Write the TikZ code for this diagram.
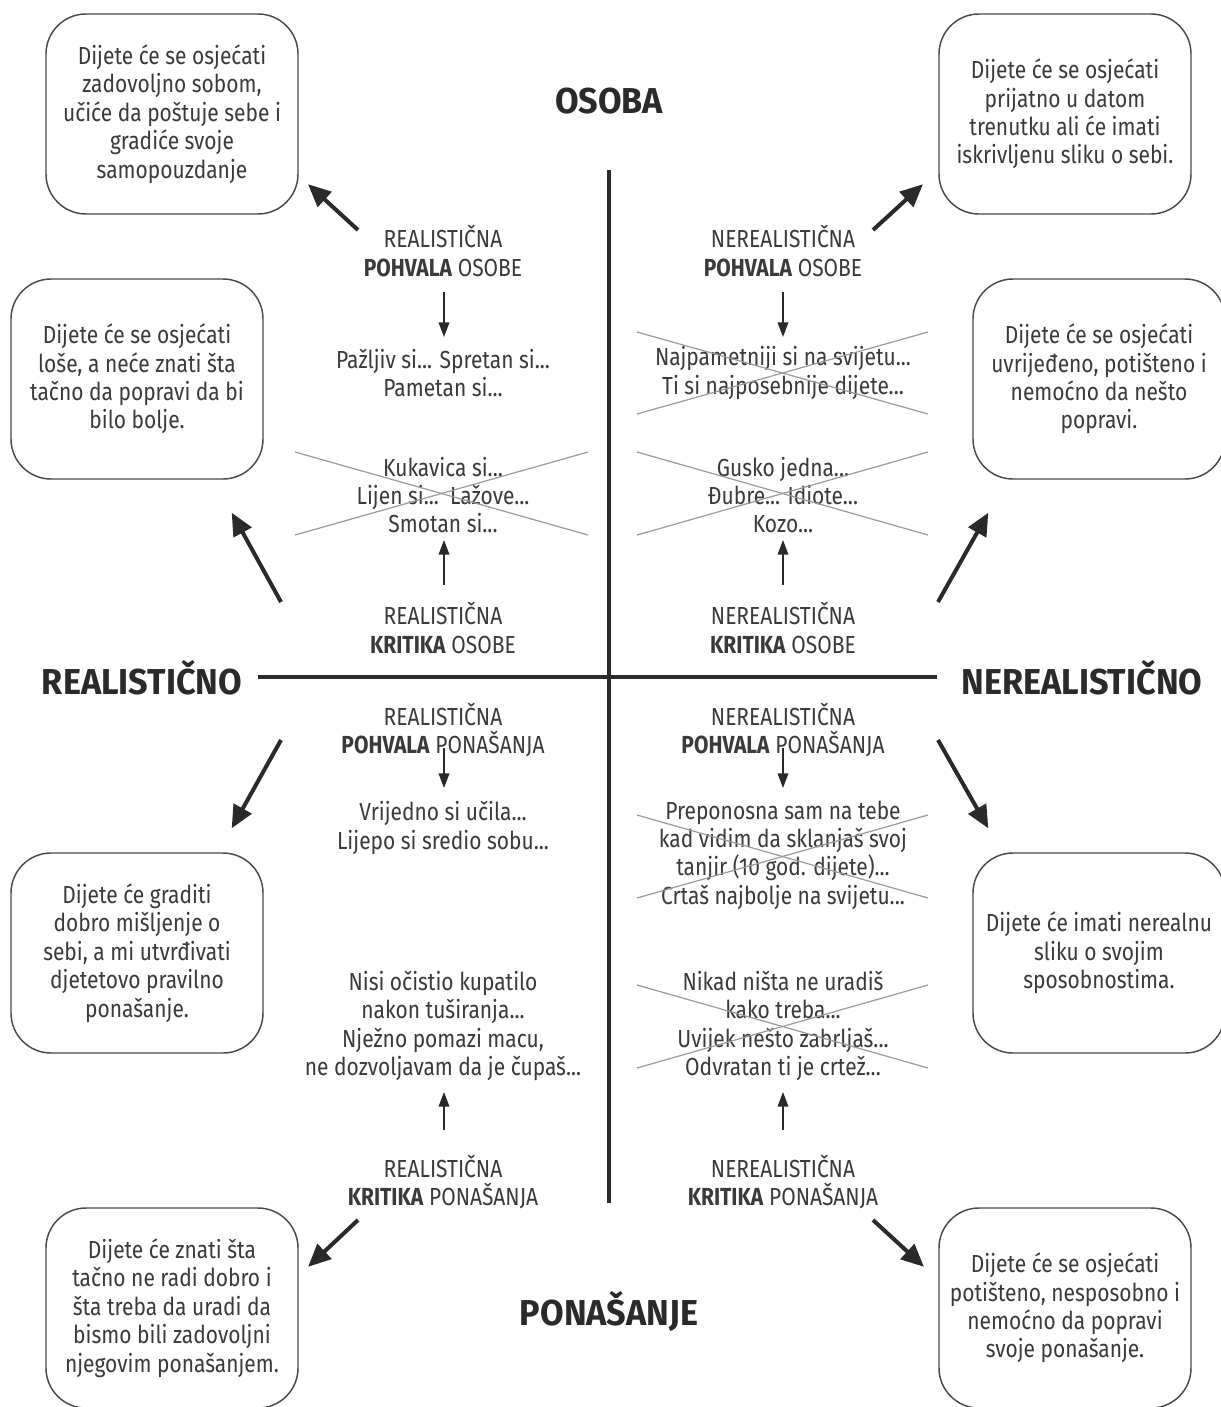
\documentclass[tikz,border=0pt]{standalone}
\usepackage{fontspec}
\setmainfont{Fira Sans}[FakeStretch=0.85]
\newfontfamily\headfont{Fira Sans}[FakeStretch=0.95]
\usetikzlibrary{arrows.meta}
\definecolor{txt}{HTML}{3A3A3A}
\definecolor{axis}{HTML}{2A2A2A}
\definecolor{boxc}{HTML}{4A4A4A}
\definecolor{crossc}{HTML}{9A9A9A}
\begin{document}
\begin{tikzpicture}[x=0.75pt,y=-0.75pt,
  every node/.style={text=txt, font=\fontsize{18.5}{21.3}\selectfont, align=center, inner sep=0pt},
  box/.style={draw=boxc, line width=1.1pt, rounded corners=30pt, minimum width=189pt, minimum height=150pt},
  head/.style={font=\headfont\bfseries\fontsize{27}{30}\selectfont, text=axis},
  axisline/.style={draw=axis, line width=2.4pt},
  bigarrow/.style={draw=axis, line width=3pt, -{Triangle[length=17pt,width=15pt]}, shorten >=-2pt},
  smallarrow/.style={draw=axis, line width=1.1pt, -{Triangle[length=11pt,width=8pt]}},
  crossline/.style={draw=crossc, line width=0.9pt}]
\useasboundingbox (0,0) rectangle (1221,1407);
\fill[white] (0,0) rectangle (1221,1407);

% axes
\node[head] (osoba) at (609,101) {OSOBA};
\node[head] (ponasanje) at (609,1312) {PONAŠANJE};
\node[head] (real) at (142,678) {REALISTIČNO};
\node[head] (nereal) at (1082,678) {NEREALISTIČNO};
\coordinate (vtop) at (609,170);
\coordinate (vbot) at (609,1203);
\coordinate (hleft) at (258,677);
\coordinate (hright) at (937,677);
\draw[axisline] (vtop) -- (vbot);
\draw[axisline] (hleft) -- (hright);

% boxes
\node[box] (bTL) at (172,114) {Dijete će se osjećati\\zadovoljno sobom,\\učiće da poštuje sebe i\\gradiće svoje\\samopouzdanje};
\node[box] (bTR) at (1065,114) {Dijete će se osjećati\\prijatno u datom\\trenutku ali će imati\\iskrivljenu sliku o sebi.};
\node[box] (bML) at (137,379) {Dijete će se osjećati\\loše, a neće znati šta\\tačno da popravi da bi\\bilo bolje.};
\node[box] (bMR) at (1099,379) {Dijete će se osjećati\\uvrijeđeno, potišteno i\\nemoćno da nešto\\popravi.};
\node[box] (bBL) at (137,953) {Dijete će graditi\\dobro mišljenje o\\sebi, a mi utvrđivati\\djetetovo pravilno\\ponašanje.};
\node[box] (bBR) at (1099,953) {Dijete će imati nerealnu\\sliku o svojim\\sposobnostima.};
\node[box] (bLL) at (172,1308) {Dijete će znati šta\\tačno ne radi dobro i\\šta treba da uradi da\\bismo bili zadovoljni\\njegovim ponašanjem.};
\node[box] (bLR) at (1065,1308) {Dijete će se osjećati\\potišteno, nesposobno i\\nemoćno da popravi\\svoje ponašanje.};

% labels
\node (l1L) at (443,251) {REALISTIČNA\\\textbf{POHVALA} OSOBE};
\node (l1R) at (783,251) {NEREALISTIČNA\\\textbf{POHVALA} OSOBE};
\node (l2L) at (443,628) {REALISTIČNA\\\textbf{KRITIKA} OSOBE};
\node (l2R) at (783,628) {NEREALISTIČNA\\\textbf{KRITIKA} OSOBE};
\node (l3L) at (443,730) {REALISTIČNA\\\textbf{POHVALA} PONAŠANJA};
\node (l3R) at (783,730) {NEREALISTIČNA\\\textbf{POHVALA} PONAŠANJA};
\node (l4L) at (443,1182) {REALISTIČNA\\\textbf{KRITIKA} PONAŠANJA};
\node (l4R) at (783,1182) {NEREALISTIČNA\\\textbf{KRITIKA} PONAŠANJA};

% examples
\node (e1L) at (443,373) {Pažljiv si... Spretan si...\\Pametan si...};
\node (e1R) at (783,373) {Najpametniji si na svijetu...\\Ti si najposebnije dijete...};
\node (e2L) at (443,495) {Kukavica si...\\Lijen si...\ \ Lažove...\\Smotan si...};
\node (e2R) at (783,495) {Gusko jedna...\\Đubre... Idiote...\\Kozo...};
\node (e3L) at (443,828) {Vrijedno si učila...\\Lijepo si sredio sobu...};
\node (e3R) at (783,855) {Preponosna sam na tebe\\kad vidim da sklanjaš svoj\\tanjir (10 god. dijete)...\\Crtaš najbolje na svijetu...};
\node (e4L) at (443,1026) {Nisi očistio kupatilo\\nakon tuširanja...\\Nježno pomazi macu,\\ne dozvoljavam da je čupaš...};
\node (e4R) at (783,1026) {Nikad ništa ne uradiš\\kako treba...\\Uvijek nešto zabrljaš...\\Odvratan ti je crtež...};

% crosses
\coordinate (c1a) at (637,332); \coordinate (c1b) at (928,414);
\coordinate (c1c) at (637,414); \coordinate (c1d) at (928,332);
\draw[crossline] (c1a) -- (c1b); \draw[crossline] (c1c) -- (c1d);
\coordinate (c2a) at (295,452); \coordinate (c2b) at (588,535);
\coordinate (c2c) at (295,535); \coordinate (c2d) at (588,452);
\draw[crossline] (c2a) -- (c2b); \draw[crossline] (c2c) -- (c2d);
\coordinate (c3a) at (637,452); \coordinate (c3b) at (928,535);
\coordinate (c3c) at (637,535); \coordinate (c3d) at (928,452);
\draw[crossline] (c3a) -- (c3b); \draw[crossline] (c3c) -- (c3d);
\coordinate (c4a) at (637,815); \coordinate (c4b) at (928,898);
\coordinate (c4c) at (637,898); \coordinate (c4d) at (928,815);
\draw[crossline] (c4a) -- (c4b); \draw[crossline] (c4c) -- (c4d);
\coordinate (c5a) at (637,985); \coordinate (c5b) at (928,1068);
\coordinate (c5c) at (637,1068); \coordinate (c5d) at (928,985);
\draw[crossline] (c5a) -- (c5b); \draw[crossline] (c5c) -- (c5d);

% small arrows
\coordinate (s1La) at (444,292); \coordinate (s1Lb) at (444,337);
\coordinate (s1Ra) at (783,292); \coordinate (s1Rb) at (783,337);
\coordinate (s2La) at (444,585); \coordinate (s2Lb) at (444,540);
\coordinate (s2Ra) at (783,585); \coordinate (s2Rb) at (783,540);
\coordinate (s3La) at (444,748); \coordinate (s3Lb) at (444,788);
\coordinate (s3Ra) at (783,748); \coordinate (s3Rb) at (783,788);
\coordinate (s4La) at (444,1130); \coordinate (s4Lb) at (444,1092);
\coordinate (s4Ra) at (783,1130); \coordinate (s4Rb) at (783,1092);
\foreach \n in {s1L,s1R,s2L,s2R,s3L,s3R,s4L,s4R}
  \draw[smallarrow] (\n a) -- (\n b);

% big arrows
\coordinate (a1s) at (358,230); \coordinate (a1e) at (310,186);
\coordinate (a2s) at (873,230); \coordinate (a2e) at (921,186);
\coordinate (a3s) at (281,602); \coordinate (a3e) at (233,515);
\coordinate (a4s) at (938,602); \coordinate (a4e) at (987,515);
\coordinate (a5s) at (281,740); \coordinate (a5e) at (233,826);
\coordinate (a6s) at (938,740); \coordinate (a6e) at (987,826);
\coordinate (a7s) at (358,1220); \coordinate (a7e) at (310,1265);
\coordinate (a8s) at (873,1220); \coordinate (a8e) at (922,1265);
\foreach \n in {1,...,8}
  \draw[bigarrow] (a\n s) -- (a\n e);
\end{tikzpicture}
\end{document}
